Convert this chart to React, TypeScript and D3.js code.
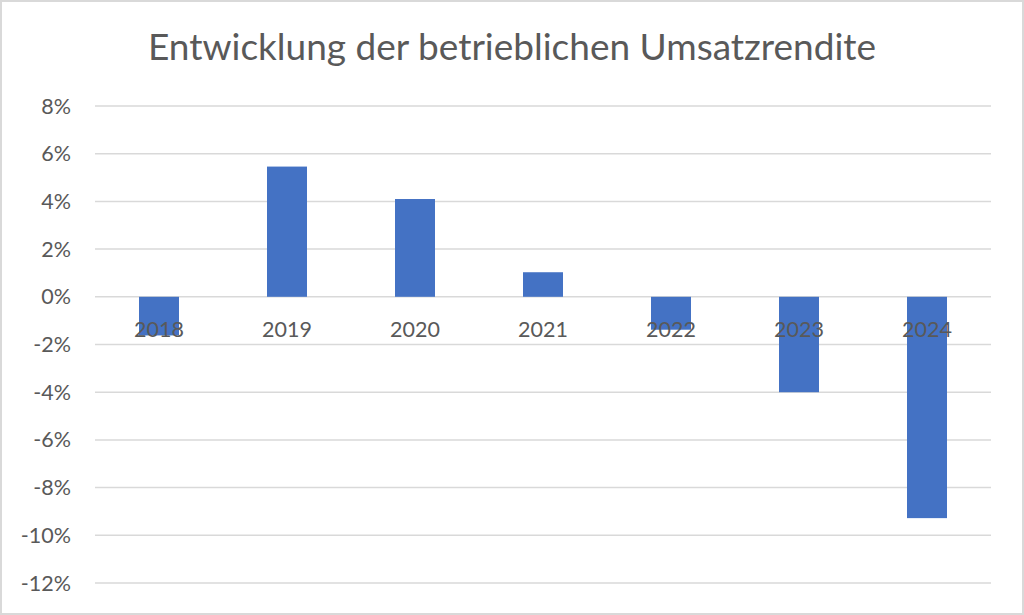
import React from "react";
import * as d3 from "d3";

const title = "Entwicklung der betrieblichen Umsatzrendite";
const years = ["2018", "2019", "2020", "2021", "2022", "2023", "2024"];
const values = [-1.62, 5.46, 4.1, 1.03, -1.38, -4.0, -9.28];
const yTicks = [8, 6, 4, 2, 0, -2, -4, -6, -8, -10, -12];

const W = 1024;
const H = 615;
const plotLeft = 95;
const plotRight = 991;
const plotTop = 106;
const plotBottom = 583;
const textColor = "#595959";
const gridColor = "#d9d9d9";
const barColor = "#4472C4";
const font = "Lato, 'Open Sans', sans-serif";

export default function App() {
  const x = d3.scaleBand<string>().domain(years).range([plotLeft, plotRight]).padding(0);
  const y = d3.scaleLinear().domain([-12, 8]).range([plotBottom, plotTop]);
  const barW = x.step() * 0.3125;

  return (
    <svg
      width={W}
      height={H}
      style={{ position: "absolute", left: 0, top: 0, background: "#fff" }}
    >
      <rect x={1} y={1} width={W - 2} height={H - 2} fill="#fff" stroke={gridColor} strokeWidth={2} />
      <text
        x={512}
        y={60}
        textAnchor="middle"
        fontFamily={font}
        fontSize={37}
        fill={textColor}
      >
        {title}
      </text>
      {yTicks.map((t) => (
        <g key={t}>
          <line
            x1={plotLeft}
            x2={plotRight}
            y1={y(t)}
            y2={y(t)}
            stroke={gridColor}
            strokeWidth={1.5}
          />
          <text
            x={71}
            y={y(t) + 7.5}
            textAnchor="end"
            fontFamily={font}
            fontSize={21.5}
            fill={textColor}
          >
            {`${t}%`}
          </text>
        </g>
      ))}
      {years.map((yr, i) => {
        const v = values[i];
        const cx = (x(yr) as number) + x.bandwidth() / 2;
        return (
          <rect
            key={yr}
            x={cx - barW / 2}
            y={Math.min(y(v), y(0))}
            width={barW}
            height={Math.abs(y(v) - y(0))}
            fill={barColor}
          />
        );
      })}
      {years.map((yr) => {
        const cx = (x(yr) as number) + x.bandwidth() / 2;
        return (
          <text
            key={yr}
            x={cx}
            y={337}
            textAnchor="middle"
            fontFamily={font}
            fontSize={21.5}
            fill={textColor}
          >
            {yr}
          </text>
        );
      })}
    </svg>
  );
}
